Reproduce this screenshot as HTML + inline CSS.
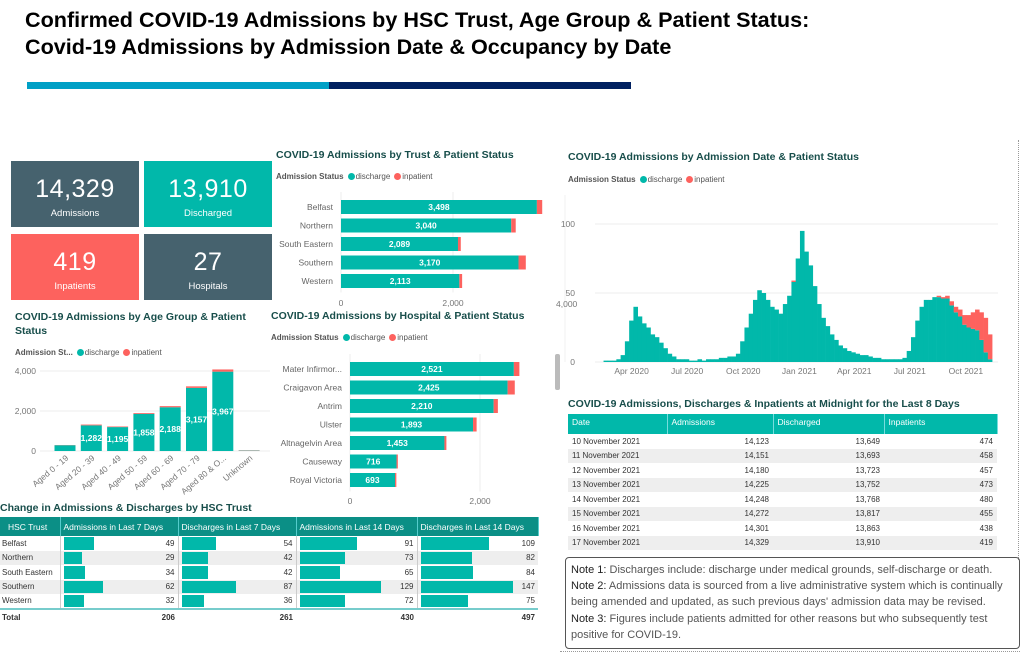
<!DOCTYPE html>
<html><head><meta charset="utf-8">
<style>
*{box-sizing:border-box;margin:0;padding:0}
body{width:1028px;height:658px;background:#fff;position:relative;overflow:hidden;font-family:"Liberation Sans",sans-serif;}
.abs{position:absolute}
.h1{font-weight:bold;font-size:21.6px;color:#000;left:25px;white-space:nowrap}
.card{position:absolute;color:#fff;text-align:center;width:128px;height:66px}
.card .v{font-size:25px;margin-top:14px;letter-spacing:0.5px}
.card .l{font-size:9.5px;margin-top:4px}
.ct{position:absolute;font-size:10.5px;font-weight:bold;color:#184e4b}
.lg{position:absolute;font-size:8px;color:#555}
.lg b{font-weight:bold;color:#555}
.dot{display:inline-block;width:7px;height:7px;border-radius:50%;vertical-align:-1px;margin:0 1px 0 4px}
table{border-collapse:collapse;font-size:8px;color:#333}
svg text{font-family:"Liberation Sans",sans-serif}
</style></head><body>
<div class="abs h1" style="top:7px">Confirmed COVID-19 Admissions by HSC Trust, Age Group &amp; Patient Status:</div>
<div class="abs h1" style="top:34px">Covid-19 Admissions by Admission Date &amp; Occupancy by Date</div>
<div class="abs" style="left:27px;top:82px;width:302px;height:7px;background:#00a0c6"></div>
<div class="abs" style="left:329px;top:82px;width:302px;height:7px;background:#002060"></div>

<div class="card" style="left:11px;top:161px;background:#46626e"><div class="v">14,329</div><div class="l">Admissions</div></div>
<div class="card" style="left:144px;top:161px;background:#01b8aa"><div class="v">13,910</div><div class="l">Discharged</div></div>
<div class="card" style="left:11px;top:234px;background:#fd625e"><div class="v">419</div><div class="l">Inpatients</div></div>
<div class="card" style="left:144px;top:234px;background:#46626e"><div class="v">27</div><div class="l">Hospitals</div></div>

<div class="ct" style="left:276px;top:149px">COVID-19 Admissions by Trust &amp; Patient Status</div>
<div class="lg" style="left:276px;top:172px"><b>Admission Status</b><span class="dot" style="background:#01b8aa"></span>discharge<span class="dot" style="background:#fd625e"></span>inpatient</div>
<svg class="abs" id="trust" style="left:270px;top:190px" width="280" height="120"></svg>

<div class="ct" style="left:15px;top:310px;width:250px;line-height:14px">COVID-19 Admissions by Age Group &amp; Patient Status</div>
<div class="lg" style="left:15px;top:348px"><b>Admission St...</b><span class="dot" style="background:#01b8aa"></span>discharge<span class="dot" style="background:#fd625e"></span>inpatient</div>
<svg class="abs" id="age" style="left:0px;top:360px" width="275" height="140"></svg>

<div class="ct" style="left:271px;top:310px">COVID-19 Admissions by Hospital &amp; Patient Status</div>
<div class="lg" style="left:271px;top:333px"><b>Admission Status</b><span class="dot" style="background:#01b8aa"></span>discharge<span class="dot" style="background:#fd625e"></span>inpatient</div>
<svg class="abs" id="hosp" style="left:270px;top:352px" width="280" height="156"></svg>

<div class="ct" style="left:0px;top:502px;font-size:10.5px">Change in Admissions &amp; Discharges by HSC Trust</div>
<div class="abs" id="chg" style="left:0;top:517px;width:538px"></div>

<div class="ct" style="left:568px;top:151px">COVID-19 Admissions by Admission Date &amp; Patient Status</div>
<div class="lg" style="left:568px;top:175px"><b>Admission Status</b><span class="dot" style="background:#01b8aa"></span>discharge<span class="dot" style="background:#fd625e"></span>inpatient</div>
<svg class="abs" id="ts" style="left:555px;top:190px" width="460" height="192"></svg>
<div class="abs" style="left:555px;top:354px;width:5px;height:36px;background:#bbb;border-radius:2px"></div>
<div class="abs" style="left:1018px;top:140px;height:420px;border-left:1px dotted #999"></div>
<div class="abs" style="left:560px;top:651px;width:460px;border-top:1px dotted #999"></div>

<div class="ct" style="left:568px;top:398px">COVID-19 Admissions, Discharges &amp; Inpatients at Midnight for the Last 8 Days</div>
<div class="abs" id="mid" style="left:568px;top:414px;width:429px"></div>

<div class="abs" style="left:565px;top:557px;width:455px;height:92px;border:1px solid #555;border-radius:4px;padding:4px 5px;font-size:11px;line-height:16.2px;color:#555">
<div><span style="color:#222">Note 1:</span> Discharges include: discharge under medical grounds, self-discharge or death.</div>
<div><span style="color:#222">Note 2:</span> Admissions data is sourced from a live administrative system which is continually being amended and updated, as such previous days' admission data may be revised.</div>
<div><span style="color:#222">Note 3:</span> Figures include patients admitted for other reasons but who subsequently test positive for COVID-19.</div>
</div>

<script>
const NS='http://www.w3.org/2000/svg';
function mk(p,tag,at){const e=document.createElementNS(NS,tag);for(const k in at)e.setAttribute(k,at[k]);p.appendChild(e);return e;}
const TEAL='#01b8aa',RED='#fd625e';

// Trust chart data
const trustNames=['Belfast','Northern','South Eastern','Southern','Western'];
const trustDischarge=[3498,3040,2089,3170,2113];
const trustInpatient=[95,80,50,130,50];
const trustTicks=[0,2000];
// Hospital chart data
const hospNames=['Mater Infirmor...','Craigavon Area','Antrim','Ulster','Altnagelvin Area','Causeway','Royal Victoria'];
const hospDischarge=[2521,2425,2210,1893,1453,716,693];
const hospInpatient=[85,110,65,55,30,20,20];
const hospTicks=[0,2000];
// Age chart data
const ageNames=['Aged 0 - 19','Aged 20 - 39','Aged 40 - 49','Aged 50 - 59','Aged 60 - 69','Aged 70 - 79','Aged 80 & O...','Unknown'];
const ageDischarge=[290,1282,1195,1858,2188,3157,3967,20];
const ageInpatient=[10,40,30,40,55,75,110,15];
const ageTicks=[0,2000,4000];
// Time series (weekly, from 1 Feb 2020)
const weekDischarge=[0,0,1,1, 1,2,5,15,30, 40,33,28,25, 20,18,14,10, 6,4,2,2, 2,1,1,2,1, 2,2,2,3, 3,4,4,6, 15,25,35,45,52, 50,45,40,38, 35,42,48,58, 75,95,80,70,55, 42,32,26,20, 16,12,10,8, 7,6,5,5,4, 3,3,2,2, 2,2,2,3, 8,18,30,40, 45,45,47,47,46, 46,41,36,33, 27,25,24,23, 16,7,2];
const weekInpatient=[0,0,0,0, 0,0,0,0,0, 0,0,0,0, 0,0,0,0, 0,0,0,0, 0,0,0,0,0, 0,0,0,0, 0,0,0,0, 0,0,0,0,0, 0,0,0,0, 0,0,0,1, 0,0,0,0,0, 0,0,0,0, 0,0,0,0, 0,0,0,0,0, 0,0,0,0, 0,0,0,0, 0,0,0,0, 0,0,0,1,1, 2,3,4,5, 7,9,12,15, 20,25,18];
const tsTickLabels=['Apr 2020','Jul 2020','Oct 2020','Jan 2021','Apr 2021','Jul 2021','Oct 2021'];
const tsTickDays=[60,151,243,335,425,516,608];
const tsYTicks=[0,50,100];

function hbar(svg,names,dis,inp,ticks,x0,k,rowY,rowH,bh,tickY){
  const sx=v=>x0+v*k;
  ticks.forEach(t=>{mk(svg,'line',{x1:sx(t),x2:sx(t),y1:rowY-8,y2:rowY+rowH*names.length,stroke:'#eee'});
    const tx=mk(svg,'text',{x:sx(t),y:tickY,'font-size':8.5,fill:'#777','text-anchor':'middle'});tx.textContent=t.toLocaleString('en-US');});
  names.forEach((n,i)=>{const y=rowY+i*rowH;
    const lb=mk(svg,'text',{x:x0-8,y:y+bh/2+3,'font-size':8.5,fill:'#666','text-anchor':'end'});lb.textContent=n;
    const r=mk(svg,'rect',{x:sx(0),y:y,width:dis[i]*k,height:bh,fill:TEAL});
    
    
    const r2=mk(svg,'rect',{x:sx(dis[i]),y:y,width:inp[i]*k,height:bh,fill:RED});
    
    
    const v=mk(svg,'text',{x:sx(dis[i]/2),y:y+bh/2+3,'font-size':8.5,fill:'#fff','font-weight':'bold','text-anchor':'middle'});v.textContent=dis[i].toLocaleString('en-US');
  });
}
hbar(document.getElementById('trust'),trustNames,trustDischarge,trustInpatient,trustTicks,71,0.056,10,18.5,14,116);
hbar(document.getElementById('hosp'),hospNames,hospDischarge,hospInpatient,hospTicks,80,0.065,10,18.5,14,152);

// Age chart
(function(){
  const svg=document.getElementById('age');
  const y0=91,k=0.02,x0=65,step=26.3,bw=21;
  const sy=v=>y0-v*k;
  ageTicks.forEach(t=>{mk(svg,'line',{x1:40,x2:270,y1:sy(t),y2:sy(t),stroke:'#eee'});
    const tx=mk(svg,'text',{x:36,y:sy(t)+3,'font-size':8.5,fill:'#777','text-anchor':'end'});tx.textContent=t.toLocaleString('en-US');});
  ageNames.forEach((n,i)=>{const cx=x0+i*step;
    const r=mk(svg,'rect',{x:cx-bw/2,y:sy(ageDischarge[i]),width:bw,height:ageDischarge[i]*k,fill:TEAL});
    
    
    const r2=mk(svg,'rect',{x:cx-bw/2,y:sy(ageDischarge[i]+ageInpatient[i]),width:bw,height:ageInpatient[i]*k,fill:RED});
    
    
    if(ageDischarge[i]>1000){const v=mk(svg,'text',{x:cx,y:sy(ageDischarge[i]/2)+3,'font-size':8.5,fill:'#fff','font-weight':'bold','text-anchor':'middle'});v.textContent=ageDischarge[i].toLocaleString('en-US');}
    const t=mk(svg,'text',{x:cx+4,y:y0+8,'font-size':8.5,fill:'#777','text-anchor':'end',transform:`rotate(-40 ${cx+4} ${y0+8})`});t.textContent=n;
  });
})();

// Time series
(function(){
  const svg=document.getElementById('ts');
  const x0=40,pd=0.61,y0=172,k=1.38;
  const sx=d=>x0+d*pd, sy=v=>y0-v*k;
  mk(svg,'line',{x1:10,x2:10,y1:5,y2:y0,stroke:'#f0f0f0'});
  tsYTicks.forEach(t=>{mk(svg,'line',{x1:x0,x2:443,y1:sy(t),y2:sy(t),stroke:'#eee'});
    const tx=mk(svg,'text',{x:x0-20,y:sy(t)+3,'font-size':8.5,fill:'#777','text-anchor':'end'});tx.textContent=t;});
  const ax=mk(svg,'text',{x:1,y:sy(42)+3,'font-size':8.5,fill:'#777'});ax.textContent='4,000';
  weekDischarge.forEach((v,i)=>{const x=sx(i*7),w=7*pd+0.3;
    const r=mk(svg,'rect',{x:x,y:sy(v),width:w,height:v*k,fill:TEAL});
    
    
    const r2=mk(svg,'rect',{x:x,y:sy(v+weekInpatient[i]),width:w,height:weekInpatient[i]*k,fill:RED});
    
    
  });
  tsTickLabels.forEach((l,i)=>{const t=mk(svg,'text',{x:sx(tsTickDays[i]),y:184,'font-size':8.5,fill:'#777','text-anchor':'middle'});t.textContent=l;});
})();

// Change table
const chgTrusts=['Belfast','Northern','South Eastern','Southern','Western'];
const chgAdm7=[49,29,34,62,32];
const chgDis7=[54,42,42,87,36];
const chgAdm14=[91,73,65,129,72];
const chgDis14=[109,82,84,147,75];
const chgTotals=[206,261,430,497];
(function(){
  const cols=[chgAdm7,chgDis7,chgAdm14,chgDis14];
  const widths=[60,118,118,121,121];
  const hd=['HSC Trust','Admissions in Last 7 Days','Discharges in Last 7 Days','Admissions in Last 14 Days','Discharges in Last 14 Days'];
  let h='<table style="width:538px;table-layout:fixed"><tr style="background:#0b8f86;color:#fff;height:19px">';
  hd.forEach((t,i)=>h+=`<th style="width:${widths[i]}px;font-weight:normal;font-size:8.5px;text-align:left;padding-left:${i?3:8}px;border-right:1px solid #5cc">${t}</th>`);
  h+='</tr>';
  chgTrusts.forEach((n,r)=>{h+=`<tr style="height:14.5px;background:${r%2?'#eee':'#fff'}"><td style="padding-left:2px">${n}</td>`;
    cols.forEach(c=>h+=`<td style="position:relative;border-left:1px solid #ccc;text-align:right;padding-right:3px"><div style="position:absolute;left:3px;top:1px;bottom:1px;width:${c[r]*0.63}px;background:${TEAL}"></div>${c[r]}</td>`);
    h+='</tr>';});
  h+='<tr style="height:16px;border-top:2px solid #7cc;font-weight:bold"><td style="padding-left:2px">Total</td>';
  chgTotals.forEach(t=>h+=`<td style="text-align:right;padding-right:3px">${t}</td>`);
  h+='</tr></table>';
  document.getElementById('chg').innerHTML=h;
})();

// Midnight table
const midDates=['10 November 2021','11 November 2021','12 November 2021','13 November 2021','14 November 2021','15 November 2021','16 November 2021','17 November 2021'];
const midAdm=[14123,14151,14180,14225,14248,14272,14301,14329];
const midDis=[13649,13693,13723,13752,13768,13817,13863,13910];
const midInp=[474,458,457,473,480,455,438,419];
(function(){
  let h='<table style="width:429px;table-layout:fixed"><tr style="background:#01b8aa;color:#fff;height:20px;vertical-align:top">';
  [['Date',99],['Admissions',106],['Discharged',111],['Inpatients',113]].forEach(c=>h+=`<th style="width:${c[1]}px;font-weight:normal;font-size:8.5px;text-align:left;padding:3px 4px;border-right:1px solid #7dd">${c[0]}</th>`);
  h+='</tr>';
  midDates.forEach((d,i)=>{h+=`<tr style="height:14.5px;background:${i%2?'#eee':'#fff'}"><td style="padding-left:4px">${d}</td><td style="text-align:right;padding-right:4px">${midAdm[i].toLocaleString('en-US')}</td><td style="text-align:right;padding-right:4px">${midDis[i].toLocaleString('en-US')}</td><td style="text-align:right;padding-right:4px">${midInp[i]}</td></tr>`;});
  h+='</table>';
  document.getElementById('mid').innerHTML=h;
})();
</script>
</body></html>
